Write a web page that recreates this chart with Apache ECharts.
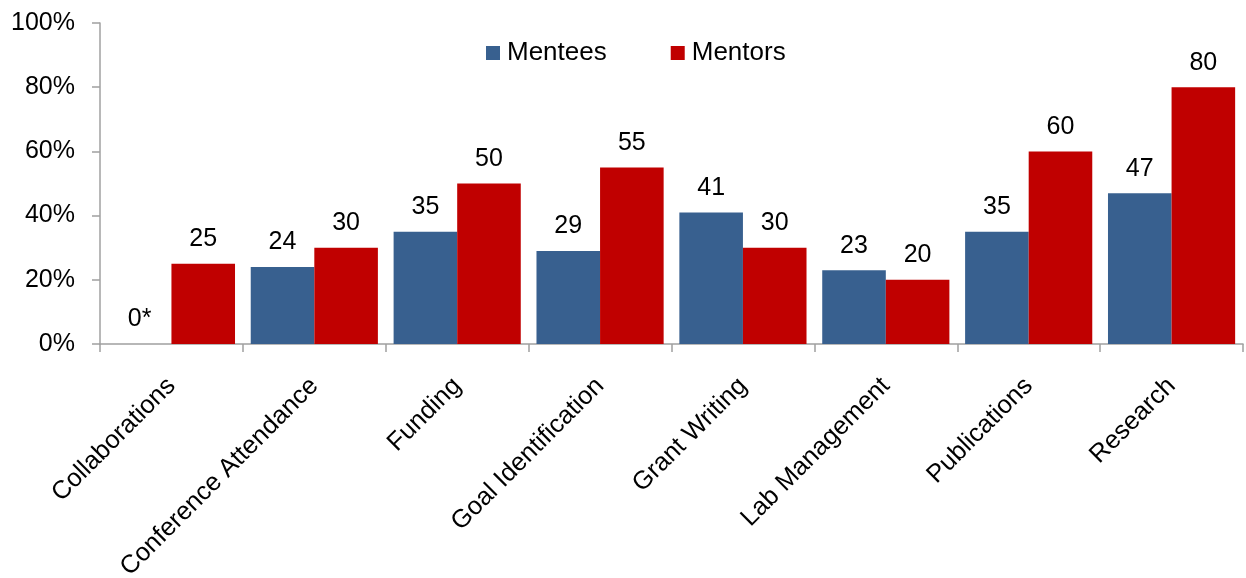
<!DOCTYPE html>
<html>
<head>
<meta charset="utf-8">
<script src="https://cdn.jsdelivr.net/npm/echarts@6/dist/echarts.min.js"></script>
<style>
html,body{margin:0;padding:0;background:#fff;}
#chart{width:1246px;height:578px;}
</style>
</head>
<body>
<div id="chart"></div>
<script>
const categories = ["Collaborations","Conference Attendance","Funding","Goal Identification","Grant Writing","Lab Management","Publications","Research"];
const mentees = [0, 24, 35, 29, 41, 23, 35, 47];
const mentors = [25, 30, 50, 55, 30, 20, 60, 80];
const menteeLabels = ["0*", "24", "35", "29", "41", "23", "35", "47"];
const yTicks = [0, 20, 40, 60, 80, 100];

const font = 'Liberation Sans, Arial, sans-serif';
const chart = echarts.init(document.getElementById('chart'));
chart.setOption({
  animation: false,
  textStyle: {fontFamily: font},
  legend: {
    left: 486, top: 40, padding: 0,
    itemWidth: 14, itemHeight: 14, itemGap: 64,
    icon: 'rect',
    textStyle: {fontSize: 26, color: '#000', fontFamily: font, padding: [0,0,0,2]},
    data: ['Mentees','Mentors']
  },
  grid: {left: 100, right: 3, top: 23, bottom: 234, containLabel: false, outerBoundsMode: 'none'},
  xAxis: {
    type: 'category',
    data: categories,
    axisLine: {lineStyle: {color: '#A0A0A0', width: 1.5}},
    axisTick: {show: true, length: 8, alignWithLabel: false, lineStyle: {color: '#A0A0A0', width: 1.5}},
    axisLabel: {rotate: 45, margin: 38, fontSize: 25.5, color: '#000', fontFamily: font, interval: 0}
  },
  yAxis: {
    type: 'value',
    min: 0, max: 100, interval: 20,
    splitLine: {show: false},
    axisLine: {show: true, lineStyle: {color: '#A0A0A0', width: 1.5}},
    axisTick: {show: true, length: 8, lineStyle: {color: '#A0A0A0', width: 1.5}},
    axisLabel: {formatter: v => yTicks.includes(v) ? v + '%' : '', fontSize: 25, color: '#000', margin: 25, fontFamily: font}
  },
  series: [
    {
      name: 'Mentees', type: 'bar', data: mentees,
      barGap: '0%', barCategoryGap: '11%',
      itemStyle: {color: '#38608F'},
      label: {show: true, position: 'top', distance: 12, fontSize: 25, color: '#000', fontFamily: font,
        formatter: p => menteeLabels[p.dataIndex]}
    },
    {
      name: 'Mentors', type: 'bar', data: mentors,
      barGap: '0%', barCategoryGap: '11%',
      itemStyle: {color: '#C00000'},
      label: {show: true, position: 'top', distance: 12, fontSize: 25, color: '#000', fontFamily: font}
    }
  ]
});
</script>
</body>
</html>
